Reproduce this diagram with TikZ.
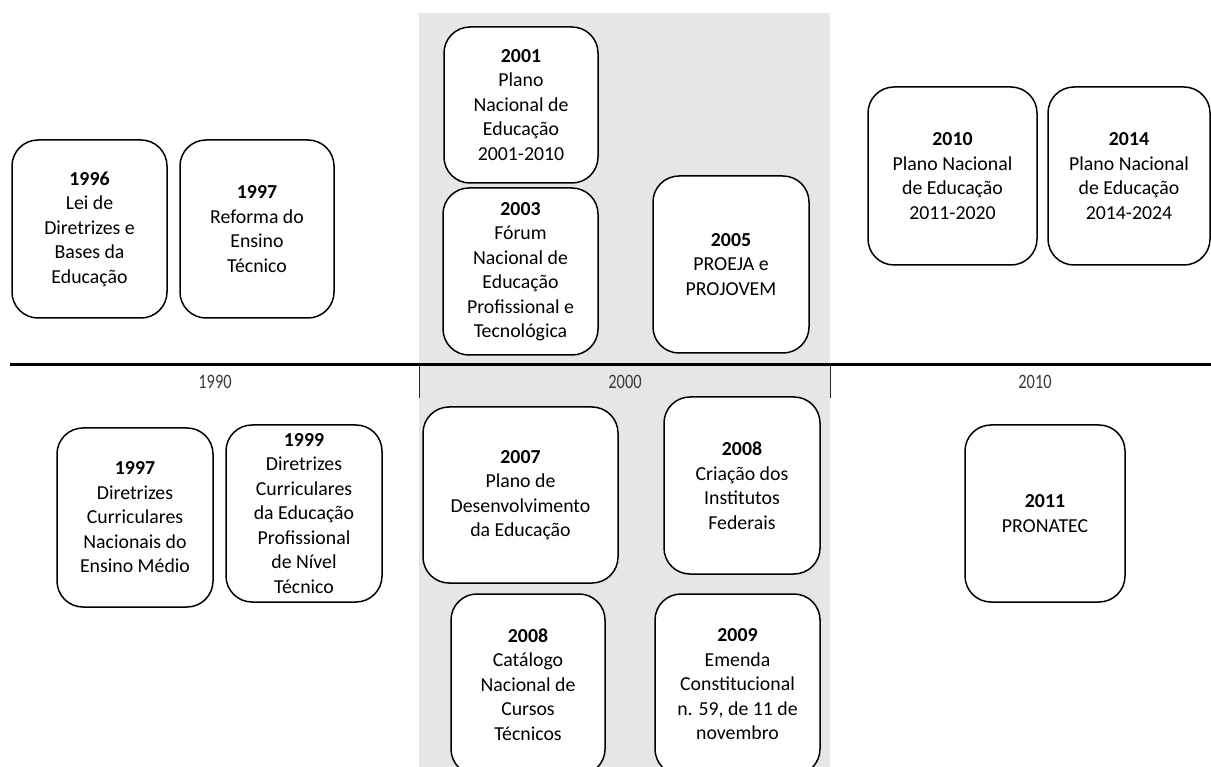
\documentclass[tikz,border=0pt]{standalone}
\usepackage{fontspec}
\setmainfont{Carlito}
\newfontfamily\axisfont[FakeStretch=0.8]{Carlito}
\definecolor{bandgray}{HTML}{E6E6E6}
\definecolor{axislabel}{HTML}{3A3A3A}
\begin{document}
\begin{tikzpicture}[x=1pt,y=-1pt,
  evbox/.style={draw=black, line width=1.5pt, fill=white, rounded corners=26pt,
    align=center, inner sep=0pt, font=\fontsize{19.8}{24.5}\selectfont},
  decade/.style={font=\axisfont\fontsize{20.5}{22}\selectfont, text=axislabel, inner sep=0pt},
  tickline/.style={draw=black!85, line width=0.9pt}]
\useasboundingbox (0,0) rectangle (1211,767);
\clip (0,0) rectangle (1211,767);

% shaded decade 2000-2010
\fill[bandgray] (419,13) rectangle (830,767);

% timeline axis
\coordinate (axL) at (10,365);
\coordinate (axR) at (1211,365);
\coordinate (t1a) at (419,365);
\coordinate (t1b) at (419,398);
\coordinate (t2a) at (830,365);
\coordinate (t2b) at (830,398);
\draw[line width=3pt] (axL) -- (axR);
\draw[tickline] (t1a) -- (t1b);
\draw[tickline] (t2a) -- (t2b);
\node[decade] (d1990) at (215,382) {1990};
\node[decade] (d2000) at (625,382) {2000};
\node[decade] (d2010) at (1035,382) {2010};

% events above the axis
\node[evbox, minimum width=155pt, minimum height=178pt] (e1996) at (89.5,229)
  {\textbf{1996}\\Lei de\\Diretrizes e\\Bases da\\Educação};
\node[evbox, minimum width=154pt, minimum height=178pt] (e1997a) at (257,229)
  {\textbf{1997}\\Reforma do\\Ensino\\Técnico};
\node[evbox, minimum width=154pt, minimum height=156pt] (e2001) at (521,105)
  {\textbf{2001}\\Plano\\Nacional de\\Educação\\2001-2010};
\node[evbox, minimum width=155pt, minimum height=167pt] (e2003) at (520.5,271.5)
  {\textbf{2003}\\Fórum\\Nacional de\\Educação\\Profissional e\\Tecnológica};
\node[evbox, minimum width=156pt, minimum height=177pt] (e2005) at (731,264.5)
  {\textbf{2005}\\PROEJA e\\PROJOVEM};
\node[evbox, minimum width=169pt, minimum height=178pt] (e2010) at (952.5,176)
  {\textbf{2010}\\Plano Nacional\\de Educação\\2011-2020};
\node[evbox, minimum width=162pt, minimum height=178pt] (e2014) at (1129,176)
  {\textbf{2014}\\Plano Nacional\\de Educação\\2014-2024};

% events below the axis
\node[evbox, minimum width=156pt, minimum height=179pt] (e1997b) at (135,517.5)
  {\textbf{1997}\\Diretrizes\\Curriculares\\Nacionais do\\Ensino Médio};
\node[evbox, minimum width=156pt, minimum height=177pt] (e1999) at (304,513.5)
  {\textbf{1999}\\Diretrizes\\Curriculares\\da Educação\\Profissional\\de Nível\\Técnico};
\node[evbox, minimum width=195pt, minimum height=176pt] (e2007) at (520.5,495)
  {\textbf{2007}\\Plano de\\Desenvolvimento\\da Educação};
\node[evbox, minimum width=156pt, minimum height=177pt] (e2008a) at (742,485.5)
  {\textbf{2008}\\Criação dos\\Institutos\\Federais};
\node[evbox, minimum width=154pt, minimum height=181pt] (e2008b) at (528,684.5)
  {\textbf{2008}\\Catálogo\\Nacional de\\Cursos\\Técnicos};
\node[evbox, minimum width=165pt, minimum height=181pt] (e2009) at (737.5,684.5)
  {\textbf{2009}\\Emenda\\Constitucional\\n. 59, de 11 de\\novembro};
\node[evbox, minimum width=160pt, minimum height=177pt] (e2011) at (1045,513.5)
  {\textbf{2011}\\PRONATEC};
\end{tikzpicture}
\end{document}
